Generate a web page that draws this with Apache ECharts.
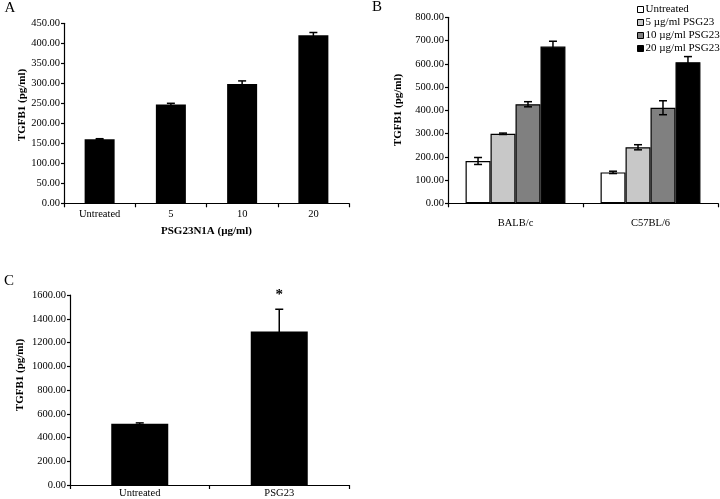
<!DOCTYPE html>
<html>
<head>
<meta charset="utf-8">
<script src="https://cdn.jsdelivr.net/npm/echarts@6/dist/echarts.min.js"></script>
<style>html,body{margin:0;padding:0;background:#fff;}#c{width:720px;height:499px;}</style>
</head>
<body>
<div id="c"></div>
<script>
// Panel A
const aCategories = ['Untreated', '5', '10', '20'];
const aValues = [160, 247, 298, 420];
const aErrors = [1.5, 3, 8, 7];
const aTicks = [0, 450, 50];
// Panel B
const bCategories = ['BALB/c', 'C57BL/6'];
const bSeriesNames = ['Untreated', '5 µg/ml PSG23', '10 µg/ml PSG23', '20 µg/ml PSG23'];
const bUntreated = [182, 133];
const b5 = [299, 241];
const b10 = [426, 411];
const b20 = [674, 607];
const bUntreatedErr = [15, 5];
const b5Err = [3, 11];
const b10Err = [11, 30];
const b20Err = [23, 24];
const bTicks = [0, 800, 100];
// Panel C
const cCategories = ['Untreated', 'PSG23'];
const cValues = [515, 1292];
const cErrors = [8, 188];
const cMarks = ['', '*'];
const cTicks = [0, 1600, 200];

const FONT = 'Liberation Serif';
const bColors = ['#ffffff', '#c8c8c8', '#808080', '#000000'];
const bValues = [bUntreated, b5, b10, b20];
const bErrs = [bUntreatedErr, b5Err, b10Err, b20Err];
const B_GAP = 0.26;

function yAxis(gridIndex, t) {
  return {
    type: 'value', gridIndex, min: t[0], max: t[1], interval: t[2],
    axisLine: {show: true, lineStyle: {color: '#000', width: 1.2}},
    axisTick: {show: true, length: 3, lineStyle: {color: '#000', width: 1.2}},
    splitLine: {show: false},
    axisLabel: {fontFamily: FONT, fontSize: 10.5, color: '#000', margin: 4,
      formatter: v => v.toFixed(2)}
  };
}
function xAxis(gridIndex, cats, margin, extra) {
  return Object.assign({
    type: 'category', gridIndex, data: cats, boundaryGap: true,
    axisLine: {show: true, lineStyle: {color: '#000', width: 1.2}},
    axisTick: {show: true, length: 4, interval: 0, lineStyle: {color: '#000', width: 1.2}},
    axisLabel: {fontFamily: FONT, fontSize: 10.5, color: '#000', margin, interval: 0}
  }, extra || {});
}

function errRender(offsetFn, markArr) {
  return function (params, api) {
    const ci = api.value(0), v = api.value(1), e = api.value(2), si = api.value(3);
    const band = api.size([1, 0])[0];
    const off = offsetFn(si, band);
    const top = api.coord([ci, v + e]);
    const bot = api.coord([ci, v - e]);
    const x = top[0] + off;
    const cap = 4;
    const st = {stroke: '#000', lineWidth: 1.5};
    const children = [
      {type: 'line', shape: {x1: x, y1: top[1], x2: x, y2: bot[1]}, style: st},
      {type: 'line', shape: {x1: x - cap, y1: top[1], x2: x + cap, y2: top[1]}, style: st},
      {type: 'line', shape: {x1: x - cap, y1: bot[1], x2: x + cap, y2: bot[1]}, style: st}
    ];
    if (markArr && markArr[ci]) {
      children.push({type: 'text', style: {text: markArr[ci], x: x, y: top[1] - 7,
        textAlign: 'center', textVerticalAlign: 'bottom', font: 'bold 15px ' + FONT, fill: '#000'}});
    }
    return {type: 'group', children};
  };
}

const series = [];
// A bars
series.push({type: 'bar', xAxisIndex: 0, yAxisIndex: 0, data: aValues, barWidth: 30,
  itemStyle: {color: '#000'}, silent: true});
series.push({type: 'custom', xAxisIndex: 0, yAxisIndex: 0, z: 5,
  data: aValues.map((v, i) => [i, v, aErrors[i], 0]),
  renderItem: errRender(() => 0)});
// B bars
bSeriesNames.forEach((n, s) => {
  series.push({type: 'bar', name: n, xAxisIndex: 1, yAxisIndex: 1, data: bValues[s],
    barGap: '0%', barCategoryGap: (B_GAP * 100) + '%',
    itemStyle: {color: bColors[s], borderColor: '#000', borderWidth: 1.2}});
});
const bErrData = [];
bSeriesNames.forEach((n, s) => bCategories.forEach((c, i) => bErrData.push([i, bValues[s][i], bErrs[s][i], s])));
series.push({type: 'custom', xAxisIndex: 1, yAxisIndex: 1, z: 5, data: bErrData,
  renderItem: errRender((si, band) => (si - 1.5) * band * (1 - B_GAP) / 4)});
// C bars
series.push({type: 'bar', xAxisIndex: 2, yAxisIndex: 2, data: cValues, barWidth: 57,
  itemStyle: {color: '#000'}});
series.push({type: 'custom', xAxisIndex: 2, yAxisIndex: 2, z: 5,
  data: cValues.map((v, i) => [i, v, cErrors[i], 0]),
  renderItem: errRender(() => 0, cMarks)});

function gtext(text, x, y, size, bold, rot) {
  return {type: 'text', x, y, rotation: rot || 0,
    style: {text, font: (bold ? 'bold ' : '') + size + 'px ' + FONT, fill: '#000',
      textAlign: 'center', textVerticalAlign: 'middle'}};
}

const option = {
  animation: false,
  backgroundColor: '#fff',
  grid: [
    {left: 64, top: 23.3, width: 285, height: 180},
    {left: 448, top: 17.3, width: 270, height: 186},
    {left: 70, top: 295, width: 279, height: 190.7}
  ],
  xAxis: [
    xAxis(0, aCategories, 5, {name: 'PSG23N1A (µg/ml)', nameLocation: 'middle', nameGap: 22,
      nameTextStyle: {fontFamily: FONT, fontWeight: 'bold', fontSize: 11, color: '#000'}}),
    xAxis(1, bCategories, 14),
    xAxis(2, cCategories, 3)
  ],
  yAxis: [yAxis(0, aTicks), yAxis(1, bTicks), yAxis(2, cTicks)],
  legend: {
    data: bSeriesNames, orient: 'vertical', left: 632, top: -1,
    itemWidth: 6, itemHeight: 6, itemGap: 2, icon: 'rect',
    itemStyle: {borderColor: '#000', borderWidth: 1},
    textStyle: {fontFamily: FONT, fontSize: 11, color: '#000', padding: [0, 0, 0, -3]}
  },
  graphic: [
    gtext('A', 10, 8, 15, false),
    gtext('B', 377, 7, 15, false),
    gtext('C', 9, 281, 15, false),
    gtext('TGFB1 (pg/ml)', 22, 105, 11, true, Math.PI / 2),
    gtext('TGFB1 (pg/ml)', 398, 110, 11, true, Math.PI / 2),
    gtext('TGFB1 (pg/ml)', 20, 375, 11, true, Math.PI / 2)
  ],
  series
};
const chart = echarts.init(document.getElementById('c'), null, {renderer: 'canvas'});
chart.setOption(option);
</script>
</body>
</html>
